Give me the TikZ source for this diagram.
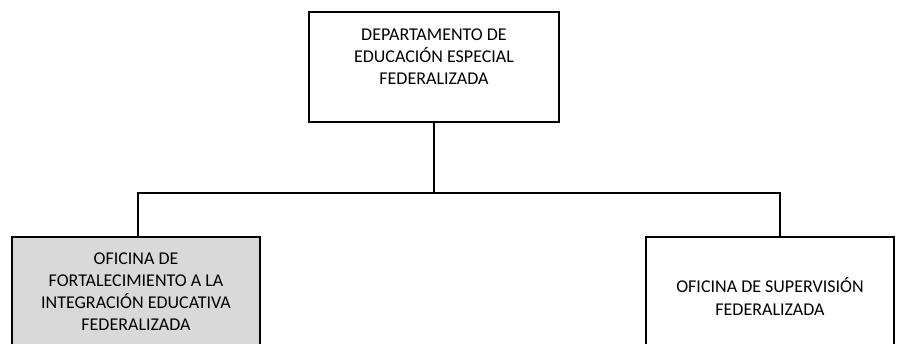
\documentclass[tikz,border=0pt]{standalone}
\usepackage{fontspec}
\setmainfont{Carlito}
\begin{document}
\begin{tikzpicture}[x=1pt,y=-1pt,
  orgbox/.style={draw=black,line width=2pt},
  orgtext/.style={align=center,font=\fontsize{18}{22}\selectfont,inner sep=0pt},
  conn/.style={draw=black,line width=2pt}]
\useasboundingbox (0,0) rectangle (900,343);
\clip (0,0) rectangle (900,343);
\node[orgbox,minimum width=250pt,minimum height=110pt] (top) at (434,67) {};
\node[orgtext] (toptext) at (434,57) {DEPARTAMENTO DE\\EDUCACIÓN ESPECIAL\\FEDERALIZADA};
\node[orgbox,fill=gray!30,minimum width=248pt,minimum height=112pt,anchor=north] (left) at (136,236) {};
\node[orgtext] (lefttext) at (136,292) {OFICINA DE\\FORTALECIMIENTO A LA\\INTEGRACIÓN EDUCATIVA\\FEDERALIZADA};
\node[orgbox,minimum width=248pt,minimum height=112pt,anchor=north] (right) at (770,236) {};
\node[orgtext,font=\fontsize{18}{23}\selectfont] (righttext) at (770,296) {OFICINA DE SUPERVISIÓN\\FEDERALIZADA};
\coordinate (hl) at (138,193);
\coordinate (hr) at (780,193);
\coordinate (hm) at (434,193);
\draw[conn] (top.south) -- (hm);
\draw[conn,line cap=rect] (hl |- left.north) -- (hl) -- (hr) -- (hr |- right.north);
\end{tikzpicture}
\end{document}
